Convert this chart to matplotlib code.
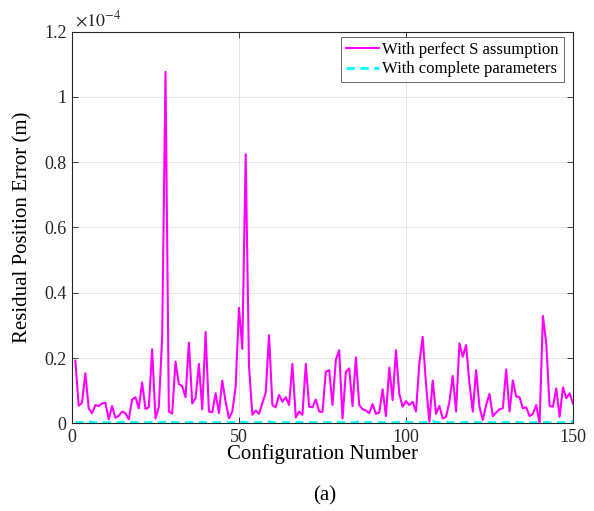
import numpy as np
import matplotlib
matplotlib.use("Agg")
import matplotlib.pyplot as plt

plt.rcParams['font.family'] = ['Liberation Serif', 'DejaVu Serif']
plt.rcParams['mathtext.fontset'] = 'stix'

# configuration index
config_num = np.arange(1, 151)

# residual position error, in units of 1e-4 m
err_perfect_s = [
    0.192, 0.054, 0.063, 0.153, 0.046, 0.031, 0.056, 0.053, 0.061, 0.063,
    0.012, 0.053, 0.017, 0.023, 0.036, 0.031, 0.012, 0.073, 0.080, 0.046,
    0.125, 0.044, 0.049, 0.227, 0.015, 0.050, 0.265, 1.077, 0.036, 0.030,
    0.189, 0.120, 0.114, 0.080, 0.247, 0.061, 0.077, 0.182, 0.043, 0.280,
    0.036, 0.034, 0.092, 0.031, 0.131, 0.066, 0.015, 0.036, 0.112, 0.354,
    0.228, 0.825, 0.175, 0.026, 0.039, 0.029, 0.061, 0.094, 0.270, 0.056,
    0.049, 0.087, 0.066, 0.080, 0.056, 0.182, 0.018, 0.036, 0.026, 0.182,
    0.051, 0.049, 0.073, 0.036, 0.035, 0.158, 0.163, 0.056, 0.194, 0.224,
    0.015, 0.158, 0.168, 0.053, 0.202, 0.056, 0.043, 0.039, 0.031, 0.059,
    0.029, 0.033, 0.104, 0.022, 0.171, 0.071, 0.224, 0.090, 0.051, 0.068,
    0.056, 0.066, 0.036, 0.184, 0.265, 0.120, 0.005, 0.131, 0.029, 0.053,
    0.015, 0.020, 0.066, 0.145, 0.036, 0.245, 0.204, 0.240, 0.122, 0.036,
    0.163, 0.051, 0.010, 0.056, 0.090, 0.022, 0.033, 0.043, 0.046, 0.165,
    0.036, 0.131, 0.082, 0.080, 0.046, 0.049, 0.022, 0.029, 0.056, 0.000,
    0.329, 0.245, 0.053, 0.051, 0.107, 0.020, 0.110, 0.077, 0.092, 0.061,
]

err_complete = [
    0.002, 0.002, 0.003, 0.002, 0.006, 0.003, 0.002, 0.002, 0.003, 0.002,
    0.002, 0.003, 0.002, 0.002, 0.004, 0.002, 0.002, 0.003, 0.002, 0.002,
    0.003, 0.002, 0.002, 0.004, 0.002, 0.002, 0.003, 0.004, 0.008, 0.003,
    0.002, 0.002, 0.003, 0.002, 0.002, 0.003, 0.002, 0.002, 0.003, 0.002,
    0.002, 0.003, 0.002, 0.002, 0.003, 0.002, 0.002, 0.003, 0.002, 0.002,
    0.004, 0.002, 0.002, 0.003, 0.002, 0.002, 0.003, 0.002, 0.005, 0.002,
    0.002, 0.003, 0.002, 0.002, 0.003, 0.002, 0.002, 0.003, 0.002, 0.002,
    0.003, 0.002, 0.002, 0.003, 0.002, 0.002, 0.003, 0.002, 0.002, 0.003,
    0.002, 0.002, 0.003, 0.002, 0.002, 0.007, 0.002, 0.002, 0.003, 0.002,
    0.002, 0.003, 0.002, 0.002, 0.003, 0.002, 0.002, 0.003, 0.002, 0.005,
    0.002, 0.002, 0.003, 0.002, 0.002, 0.003, 0.002, 0.006, 0.003, 0.002,
    0.002, 0.003, 0.002, 0.002, 0.003, 0.002, 0.002, 0.003, 0.002, 0.002,
    0.003, 0.002, 0.002, 0.003, 0.002, 0.002, 0.003, 0.002, 0.002, 0.003,
    0.002, 0.002, 0.003, 0.002, 0.002, 0.003, 0.002, 0.002, 0.003, 0.002,
    0.002, 0.003, 0.002, 0.002, 0.003, 0.002, 0.002, 0.003, 0.004, 0.006,
]

x_ticks = [0, 50, 100, 150]
y_ticks = [0, 0.2, 0.4, 0.6, 0.8, 1, 1.2]
y_ticklabels = ['0', '0.2', '0.4', '0.6', '0.8', '1', '1.2']

fig = plt.figure(figsize=(5.94, 5.11), dpi=100)
ax = fig.add_axes([0.1212, 0.1716, 0.8434, 0.7664])

ax.plot(config_num, err_perfect_s, color='#ff00ff', lw=1.5,
        label='With perfect S assumption')
ax.plot(config_num, err_complete, color='#00ffff', lw=2.0, ls=(0, (3, 2)),
        label='With complete parameters')

ax.set_xlim(0, 150)
ax.set_ylim(0, 1.2)
ax.set_xticks(x_ticks)
ax.set_yticks(y_ticks)
ax.set_yticklabels(y_ticklabels)
ax.tick_params(direction='in', length=4, width=0.6, labelsize=13,
               colors='#262626', top=True, right=True, pad=4)
for sp in ax.spines.values():
    sp.set_color('#262626')
    sp.set_linewidth(0.8)
ax.grid(True, color='#e6e6e6', lw=0.7)
ax.set_axisbelow(True)

ax.set_xlabel('Configuration Number', fontsize=15, labelpad=-1)
ax.set_ylabel('Residual Position Error (m)', fontsize=15, labelpad=8)
ax.text(0.006, 1.005, r'$\times10^{\mathrm{-4}}$', transform=ax.transAxes,
        fontsize=13, ha='left', va='bottom', color='#262626')

leg = ax.legend(loc='upper right', bbox_to_anchor=(0.982, 0.986),
                fontsize=12, frameon=True, fancybox=False,
                handlelength=2.0, handletextpad=0.2, borderpad=0.3,
                labelspacing=0.2, borderaxespad=0)
leg.get_frame().set_edgecolor('#262626')
leg.get_frame().set_linewidth(0.6)

fig.text(0.547, 0.03, '(a)', fontsize=15, ha='center', va='center')

fig.savefig('out.png', dpi=100)
